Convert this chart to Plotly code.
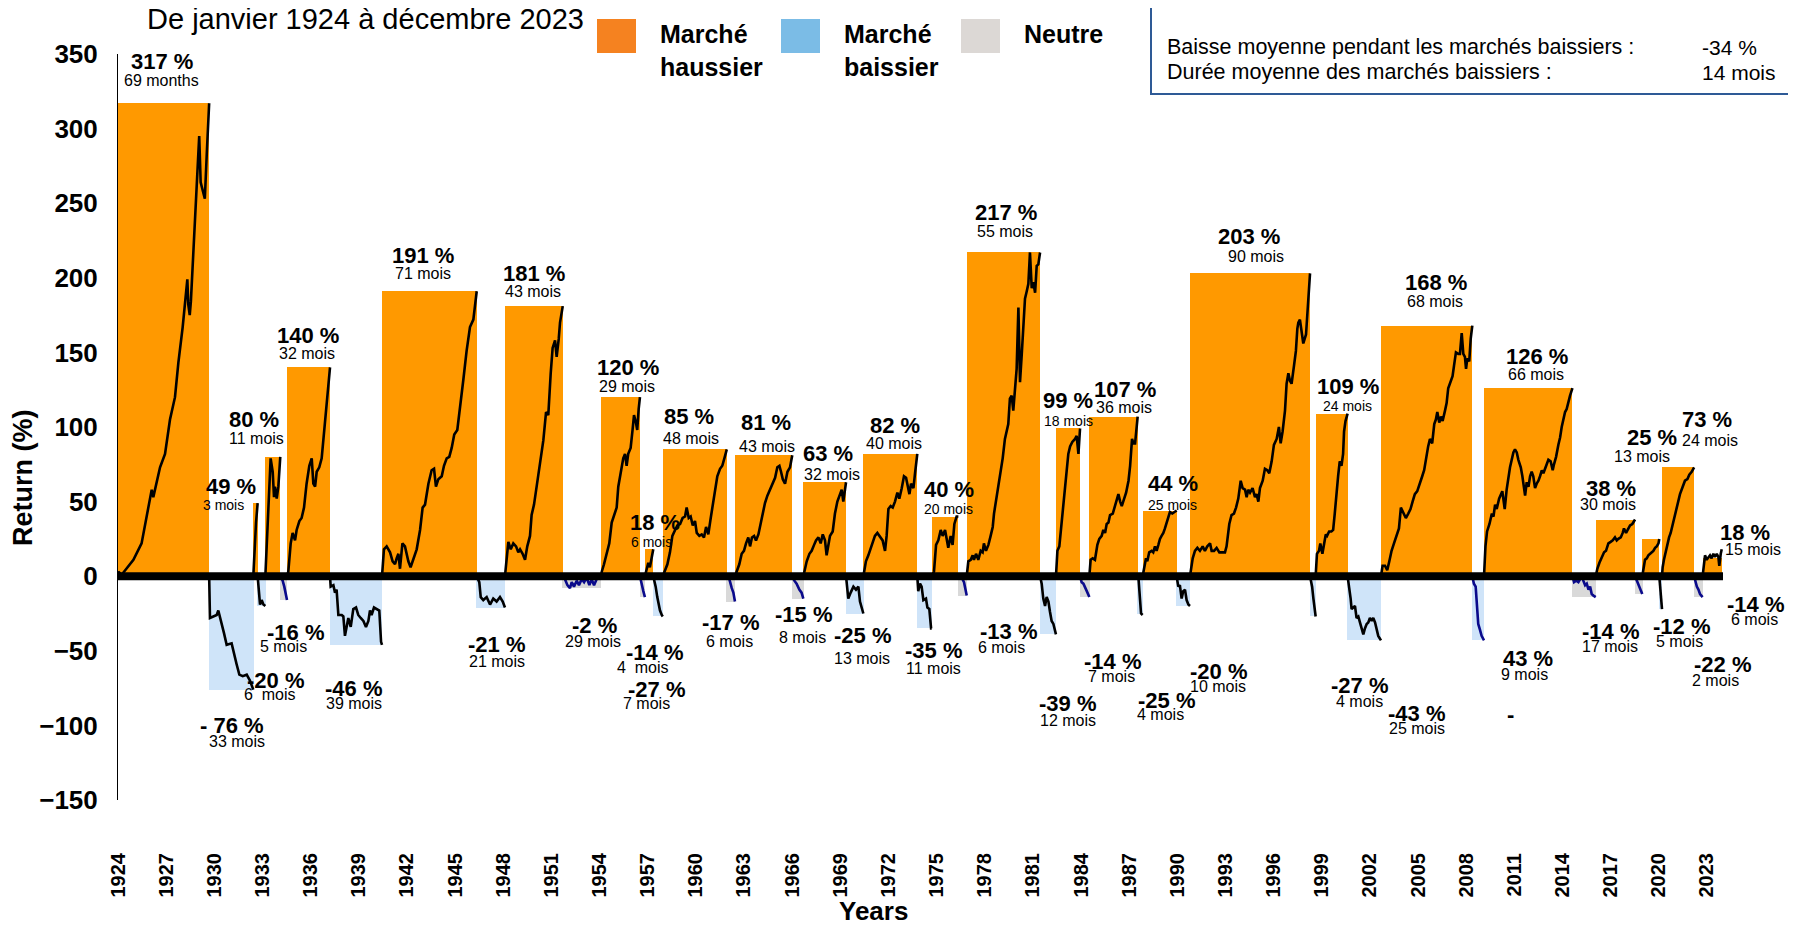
import plotly.graph_objects as go

FONT = "Liberation Sans, Arial, sans-serif"
# The page body has an 8px margin: the figure is sized/offset so that it lines up with the page.
OFF = 8
PAGE_W, PAGE_H = 1796, 926
W, H = PAGE_W - OFF, PAGE_H - OFF
PL, PT, PR, PB = 118, 54, 1723, 800          # plot area in page pixels
ML, MT = PL - OFF, PT - OFF
MR, MB = W - (PR - OFF), H - (PB - OFF)
PW, PH = PR - PL, PB - PT
X0, X1, Y0, Y1 = 1924, 2024, -150, 350

# ---------------- data ----------------
year_ticks = list(range(1924, 2024, 3))

# bull markets (orange rectangles)
bull_start = [1924.00, 1932.43, 1933.18, 1934.53, 1940.45, 1948.11, 1954.09, 1956.83, 1957.94,
              1962.44, 1966.70, 1970.44, 1974.70, 1976.88, 1982.44, 1984.52, 1987.84, 1990.79,
              1998.62, 2002.69, 2009.11, 2016.07, 2018.97, 2020.20, 2022.73]
bull_end = [1929.68, 1932.70, 1934.11, 1937.21, 1946.35, 1951.71, 1956.52, 1957.35, 1961.93,
            1966.01, 1969.36, 1973.80, 1976.36, 1981.45, 1983.94, 1987.53, 1989.96, 1998.27,
            2000.61, 2008.38, 2014.62, 2018.52, 2020.03, 2022.20, 2023.92]
bull_height = [317, 49, 80, 140, 191, 181, 120, 18, 85, 81, 63, 82, 40, 217, 99, 107, 44, 203,
               109, 168, 126, 38, 25, 73, 12]

# bear markets (light blue stripes)
bear_start = [1929.68, 1932.70, 1937.21, 1946.35, 1957.35, 1969.36, 1973.80, 1981.45, 1987.53,
              1989.96, 1998.27, 2000.61, 2008.38, 2020.03]
bear_end = [1932.43, 1933.18, 1940.45, 1948.11, 1957.94, 1970.44, 1974.70, 1982.44, 1987.84,
            1990.79, 1998.62, 2002.69, 2009.11, 2020.20]
bear_depth = [-76, -20, -46, -21, -27, -25, -35, -39, -25, -20, -27, -43, -43, -22]

# neutral periods (grey stripes)
neutral_start = [1934.11, 1951.71, 1956.52, 1961.93, 1966.01, 1976.36, 1983.94, 2014.62, 2018.52, 2022.20]
neutral_end = [1934.53, 1954.09, 1956.83, 1962.44, 1966.70, 1976.88, 1984.52, 2016.07, 2018.97, 2022.73]
neutral_depth = [-16, -8, -14, -17, -15, -13, -14, -14, -12, -14]

# cumulative return paths (year, %)
p1924 = [(1924.0, 0), (1924.02, 3), (1924.23, 1), (1924.96, 11), (1925.47, 22), (1925.79, 41), (1926.1, 58),
         (1926.2, 53), (1926.62, 73), (1926.93, 82), (1927.24, 105), (1927.55, 120), (1927.76, 143),
         (1928.03, 167), (1928.32, 199), (1928.38, 182), (1928.47, 175), (1928.54, 184), (1928.82, 244),
         (1929.01, 292), (1929.06, 295), (1929.15, 264), (1929.29, 259), (1929.41, 253), (1929.53, 283),
         (1929.68, 317)]
p1929 = [(1929.68, 0), (1929.73, -28), (1930.15, -26), (1930.25, -23), (1930.6, -38), (1930.77, -46),
         (1931.08, -45), (1931.23, -53), (1931.39, -59), (1931.56, -66), (1931.77, -67), (1932.02, -66),
         (1932.22, -70), (1932.43, -76)]
p1932a = [(1932.43, 0), (1932.5, 18), (1932.6, 36), (1932.7, 49)]
p1932b = [(1932.7, 0), (1932.8, -11), (1932.85, -19), (1932.95, -16), (1933.06, -19), (1933.18, -20)]
p1933 = [(1933.18, 0), (1933.37, 41), (1933.51, 79), (1933.64, 70), (1933.72, 53), (1933.78, 60),
         (1933.89, 52), (1933.99, 60), (1934.11, 80)]
p1934n = [(1934.11, 0), (1934.26, -3), (1934.36, -7), (1934.53, -16)]
p1934 = [(1934.53, 0), (1934.61, 3), (1934.76, 22), (1934.88, 29), (1935.03, 24), (1935.13, 31), (1935.3, 37),
         (1935.44, 39), (1935.59, 46), (1935.75, 62), (1935.92, 74), (1936.07, 79), (1936.17, 62),
         (1936.28, 60), (1936.38, 70), (1936.54, 73), (1936.69, 79), (1936.83, 96), (1937.0, 117),
         (1937.21, 140)]
p1937 = [(1937.21, 0), (1937.25, -7), (1937.42, -6), (1937.52, -11), (1937.62, -9), (1937.73, -26),
         (1937.94, -26), (1938.04, -27), (1938.14, -40), (1938.25, -34), (1938.35, -28), (1938.5, -34),
         (1938.66, -22), (1938.83, -21), (1938.97, -26), (1939.12, -28), (1939.29, -30), (1939.45, -34),
         (1939.6, -30), (1939.7, -23), (1939.8, -26), (1939.95, -21), (1940.12, -22), (1940.28, -23),
         (1940.39, -44), (1940.45, -46)]
p1940 = [(1940.45, 0), (1940.57, 18), (1940.74, 20), (1940.95, 16), (1941.11, 10), (1941.26, 8),
         (1941.36, 12), (1941.47, 15), (1941.57, 5), (1941.72, 22), (1941.88, 20), (1942.09, 10),
         (1942.23, 6), (1942.4, 12), (1942.61, 18), (1942.82, 31), (1942.98, 46), (1943.13, 48),
         (1943.34, 62), (1943.54, 71), (1943.69, 72), (1943.81, 60), (1943.96, 65), (1944.17, 67),
         (1944.31, 74), (1944.48, 79), (1944.64, 80), (1944.79, 86), (1944.95, 95), (1945.14, 98),
         (1945.31, 115), (1945.52, 132), (1945.72, 151), (1945.93, 167), (1946.14, 172), (1946.24, 182),
         (1946.35, 191)]
p1946 = [(1946.35, 0), (1946.51, -4), (1946.6, -14), (1946.76, -16), (1946.97, -14), (1947.18, -19),
         (1947.38, -15), (1947.59, -17), (1947.8, -14), (1947.97, -17), (1948.11, -21)]
p1948 = [(1948.11, 0), (1948.21, 12), (1948.32, 23), (1948.47, 18), (1948.63, 22), (1948.8, 20),
         (1948.94, 16), (1949.05, 18), (1949.21, 15), (1949.36, 11), (1949.5, 20), (1949.67, 27),
         (1949.77, 41), (1949.92, 48), (1950.08, 60), (1950.29, 74), (1950.5, 91), (1950.67, 110),
         (1950.81, 108), (1950.96, 136), (1951.08, 153), (1951.23, 158), (1951.33, 147), (1951.46, 159),
         (1951.54, 170), (1951.71, 181)]
p1951n = [(1951.71, 0), (1951.85, -2), (1952.0, -6), (1952.16, -8), (1952.27, -4), (1952.41, -7),
          (1952.58, -3), (1952.72, -6), (1952.89, -2), (1953.04, -4), (1953.2, -1), (1953.37, -6),
          (1953.51, -2), (1953.66, -6), (1953.82, -2), (1953.99, -1), (1954.09, -2)]
p1954 = [(1954.09, 0), (1954.14, 3), (1954.28, 8), (1954.45, 16), (1954.61, 22), (1954.76, 36),
         (1954.9, 41), (1955.07, 46), (1955.17, 60), (1955.32, 70), (1955.48, 79), (1955.59, 82),
         (1955.69, 74), (1955.79, 82), (1955.94, 86), (1956.06, 98), (1956.15, 108), (1956.27, 103),
         (1956.35, 98), (1956.44, 112), (1956.52, 120)]
p1956n = [(1956.52, 0), (1956.63, -6), (1956.73, -10), (1956.83, -14)]
p1956 = [(1956.83, 0), (1956.93, 5), (1957.04, 9), (1957.14, 6), (1957.25, 12), (1957.35, 18)]
p1957b = [(1957.35, 0), (1957.4, -2), (1957.5, -7), (1957.6, -14), (1957.69, -19), (1957.77, -23),
          (1957.88, -26), (1957.94, -27)]
p1957 = [(1957.94, 0), (1958.08, 4), (1958.23, 8), (1958.39, 16), (1958.54, 27), (1958.71, 31),
         (1958.85, 34), (1959.02, 35), (1959.18, 39), (1959.33, 40), (1959.43, 46), (1959.56, 39),
         (1959.68, 40), (1959.81, 34), (1959.95, 37), (1960.06, 29), (1960.22, 27), (1960.37, 28),
         (1960.51, 26), (1960.64, 33), (1960.78, 28), (1960.93, 39), (1961.05, 48), (1961.2, 58),
         (1961.34, 67), (1961.51, 72), (1961.65, 74), (1961.78, 79), (1961.93, 85)]
p1962n = [(1961.93, 0), (1962.09, -2), (1962.24, -8), (1962.34, -11), (1962.44, -17)]
p1962 = [(1962.44, 0), (1962.55, 3), (1962.71, 8), (1962.86, 15), (1963.0, 17), (1963.13, 22),
         (1963.27, 26), (1963.38, 20), (1963.5, 26), (1963.63, 27), (1963.75, 24), (1963.9, 28),
         (1964.04, 36), (1964.17, 41), (1964.31, 49), (1964.46, 54), (1964.63, 58), (1964.77, 62),
         (1964.94, 66), (1965.08, 73), (1965.21, 74), (1965.31, 70), (1965.42, 65), (1965.56, 62),
         (1965.71, 70), (1965.87, 73), (1966.01, 81)]
p1966n = [(1966.01, 0), (1966.14, -3), (1966.28, -5), (1966.45, -9), (1966.59, -11), (1966.7, -15)]
p1966 = [(1966.7, 0), (1966.74, 2), (1966.91, 10), (1967.08, 15), (1967.22, 17), (1967.37, 21),
         (1967.49, 24), (1967.64, 26), (1967.78, 22), (1967.91, 28), (1968.05, 24), (1968.15, 14),
         (1968.36, 27), (1968.53, 30), (1968.67, 42), (1968.82, 50), (1968.98, 55), (1969.09, 58),
         (1969.19, 50), (1969.36, 63)]
p1969 = [(1969.36, 0), (1969.44, -7), (1969.5, -15), (1969.65, -11), (1969.82, -7), (1969.98, -9),
         (1970.13, -7), (1970.23, -17), (1970.36, -22), (1970.44, -25)]
p1970 = [(1970.44, 0), (1970.6, 10), (1970.75, 14), (1970.85, 17), (1971.0, 22), (1971.16, 27),
         (1971.31, 29), (1971.48, 26), (1971.64, 24), (1971.79, 17), (1971.89, 27), (1972.0, 45),
         (1972.14, 47), (1972.27, 46), (1972.41, 50), (1972.56, 56), (1972.68, 52), (1972.83, 59),
         (1972.97, 67), (1973.1, 66), (1973.18, 62), (1973.31, 55), (1973.41, 62), (1973.56, 59),
         (1973.66, 69), (1973.8, 82)]
p1973 = [(1973.8, 0), (1973.86, -10), (1973.97, -5), (1974.07, -7), (1974.18, -16), (1974.34, -15),
         (1974.43, -21), (1974.55, -22), (1974.66, -35), (1974.7, -35)]
p1974 = [(1974.7, 0), (1974.84, 3), (1974.97, 21), (1975.11, 24), (1975.26, 31), (1975.38, 27),
         (1975.53, 31), (1975.63, 26), (1975.73, 19), (1975.88, 27), (1976.0, 21), (1976.11, 35),
         (1976.25, 40), (1976.36, 40)]
p1976n = [(1976.36, 0), (1976.57, -1), (1976.71, -4), (1976.88, -13)]
p1976 = [(1976.88, 0), (1976.98, 10), (1977.13, 11), (1977.25, 14), (1977.33, 11), (1977.46, 15),
         (1977.6, 11), (1977.75, 17), (1977.87, 16), (1977.95, 22), (1978.08, 17), (1978.23, 21),
         (1978.37, 27), (1978.5, 33), (1978.58, 42), (1978.7, 50), (1978.79, 55), (1978.95, 67),
         (1979.12, 79), (1979.26, 92), (1979.37, 97), (1979.47, 102), (1979.57, 119), (1979.68, 121),
         (1979.78, 111), (1979.89, 126), (1979.99, 139), (1980.1, 180), (1980.2, 130), (1980.31, 149),
         (1980.41, 168), (1980.51, 186), (1980.62, 191), (1980.72, 196), (1980.82, 217), (1980.93, 193),
         (1981.03, 197), (1981.14, 190), (1981.24, 208), (1981.34, 209), (1981.45, 217)]
p1981 = [(1981.45, 0), (1981.55, -5), (1981.65, -15), (1981.76, -20), (1981.86, -14), (1981.97, -17),
         (1982.07, -24), (1982.17, -30), (1982.28, -32), (1982.44, -39)]
p1982 = [(1982.44, 0), (1982.53, 17), (1982.65, 20), (1982.74, 30), (1982.86, 42), (1983.01, 55),
         (1983.11, 69), (1983.21, 82), (1983.32, 87), (1983.46, 90), (1983.63, 92), (1983.73, 94),
         (1983.84, 82), (1983.9, 97), (1983.94, 99)]
p1984n = [(1983.94, 0), (1984.04, -4), (1984.15, -5), (1984.25, -7), (1984.36, -10), (1984.52, -14)]
p1984 = [(1984.52, 0), (1984.6, 11), (1984.73, 12), (1984.87, 11), (1985.02, 21), (1985.14, 25),
         (1985.29, 27), (1985.39, 31), (1985.5, 29), (1985.6, 35), (1985.71, 36), (1985.81, 41),
         (1985.98, 42), (1986.12, 47), (1986.23, 52), (1986.33, 55), (1986.44, 50), (1986.54, 47),
         (1986.69, 52), (1986.81, 56), (1986.96, 64), (1987.06, 74), (1987.18, 92), (1987.27, 89),
         (1987.37, 89), (1987.48, 102), (1987.53, 107)]
p1987b = [(1987.53, 0), (1987.58, -1), (1987.64, -10), (1987.68, -20), (1987.74, -25), (1987.84, -26)]
p1987 = [(1987.84, 0), (1987.92, 5), (1988.05, 12), (1988.13, 10), (1988.25, 16), (1988.4, 17),
         (1988.5, 16), (1988.61, 20), (1988.71, 17), (1988.82, 21), (1988.92, 25), (1989.02, 27),
         (1989.13, 29), (1989.23, 32), (1989.34, 36), (1989.44, 41), (1989.54, 43), (1989.69, 42),
         (1989.81, 43), (1989.96, 44)]
p1990b = [(1989.96, 0), (1990.06, -7), (1990.16, -6), (1990.27, -15), (1990.37, -10), (1990.48, -9),
          (1990.58, -16), (1990.69, -19), (1990.79, -20)]
p1990 = [(1990.79, 0), (1990.96, 12), (1991.1, 17), (1991.25, 19), (1991.41, 17), (1991.58, 20),
         (1991.72, 17), (1991.87, 20), (1992.04, 22), (1992.14, 17), (1992.29, 17), (1992.45, 19),
         (1992.62, 16), (1992.76, 16), (1992.97, 16), (1993.07, 20), (1993.24, 35), (1993.38, 41),
         (1993.53, 42), (1993.66, 46), (1993.8, 52), (1993.95, 64), (1994.07, 59), (1994.22, 58),
         (1994.32, 53), (1994.42, 58), (1994.53, 56), (1994.69, 59), (1994.84, 53), (1994.94, 55),
         (1995.05, 50), (1995.15, 59), (1995.32, 64), (1995.46, 72), (1995.61, 71), (1995.73, 69),
         (1995.88, 77), (1996.02, 88), (1996.19, 92), (1996.33, 100), (1996.44, 89), (1996.56, 97),
         (1996.71, 111), (1996.81, 129), (1996.92, 136), (1997.02, 131), (1997.12, 129), (1997.27, 141),
         (1997.39, 151), (1997.48, 166), (1997.54, 170), (1997.64, 172), (1997.75, 163), (1997.85, 156),
         (1998.02, 162), (1998.16, 188), (1998.27, 203)]
p1998b = [(1998.27, 0), (1998.4, -7), (1998.48, -15), (1998.55, -24), (1998.62, -27)]
p1998 = [(1998.62, 0), (1998.7, 15), (1998.83, 17), (1998.91, 22), (1999.04, 15), (1999.12, 21),
         (1999.25, 28), (1999.33, 27), (1999.46, 30), (1999.6, 30), (1999.71, 31), (1999.81, 42),
         (1999.92, 57), (2000.02, 67), (2000.12, 77), (2000.23, 74), (2000.33, 82), (2000.39, 97),
         (2000.48, 104), (2000.61, 109)]
p2000 = [(2000.61, 0), (2000.71, -7), (2000.8, -15), (2000.86, -22), (2000.96, -21), (2001.07, -20),
         (2001.17, -28), (2001.28, -27), (2001.38, -31), (2001.48, -35), (2001.59, -39), (2001.69, -35),
         (2001.8, -32), (2001.9, -31), (2002.0, -28), (2002.11, -30), (2002.21, -28), (2002.32, -31),
         (2002.42, -35), (2002.52, -40), (2002.69, -43)]
p2002 = [(2002.69, 0), (2002.79, 7), (2002.94, 7), (2003.08, 4), (2003.21, 10), (2003.35, 17),
         (2003.5, 22), (2003.66, 27), (2003.81, 32), (2003.93, 46), (2004.08, 42), (2004.24, 39),
         (2004.39, 42), (2004.53, 45), (2004.66, 50), (2004.8, 55), (2004.95, 57), (2005.11, 63),
         (2005.26, 67), (2005.38, 71), (2005.53, 82), (2005.63, 87), (2005.74, 92), (2005.88, 89),
         (2006.01, 102), (2006.11, 105), (2006.2, 110), (2006.32, 103), (2006.43, 107), (2006.53, 104),
         (2006.68, 111), (2006.78, 116), (2006.88, 126), (2007.03, 131), (2007.15, 134), (2007.24, 141),
         (2007.36, 150), (2007.51, 149), (2007.61, 149), (2007.72, 163), (2007.82, 149), (2007.92, 147),
         (2007.99, 139), (2008.07, 146), (2008.19, 144), (2008.28, 159), (2008.38, 168)]
p2008 = [(2008.38, 0), (2008.48, -5), (2008.59, -7), (2008.65, -15), (2008.71, -25), (2008.75, -32),
         (2008.86, -36), (2008.96, -40), (2009.11, -43)]
p2009 = [(2009.11, 0), (2009.2, 20), (2009.3, 30), (2009.45, 35), (2009.6, 42), (2009.7, 40),
         (2009.8, 48), (2009.9, 45), (2010.05, 52), (2010.25, 57), (2010.4, 45), (2010.52, 58),
         (2010.73, 73), (2010.94, 83), (2011.04, 85), (2011.15, 83), (2011.25, 78), (2011.4, 73),
         (2011.5, 67), (2011.61, 60), (2011.67, 54), (2011.77, 63), (2011.88, 60), (2011.98, 67),
         (2012.08, 70), (2012.18, 67), (2012.29, 59), (2012.39, 62), (2012.5, 64), (2012.6, 67),
         (2012.71, 71), (2012.81, 69), (2013.02, 75), (2013.12, 78), (2013.26, 77), (2013.39, 71),
         (2013.47, 75), (2013.6, 80), (2013.74, 88), (2013.85, 93), (2013.95, 100), (2014.05, 104),
         (2014.16, 110), (2014.26, 112), (2014.37, 117), (2014.47, 121), (2014.62, 126)]
p2014n = [(2014.62, 0), (2014.72, -4), (2014.85, -3), (2014.99, -4), (2015.1, -2), (2015.2, 0),
          (2015.3, -3), (2015.41, -6), (2015.51, -5), (2015.62, -9), (2015.72, -7), (2015.82, -12),
          (2015.93, -13), (2016.07, -14)]
p2016 = [(2016.07, 0), (2016.17, 5), (2016.3, 9), (2016.44, 13), (2016.59, 16), (2016.71, 17),
         (2016.86, 22), (2017.0, 23), (2017.13, 24), (2017.27, 26), (2017.38, 24), (2017.48, 25),
         (2017.63, 26), (2017.75, 29), (2017.83, 32), (2017.96, 29), (2018.06, 31), (2018.21, 34),
         (2018.35, 35), (2018.52, 38)]
p2018n = [(2018.52, 0), (2018.63, -3), (2018.73, -6), (2018.84, -8), (2018.97, -12)]
p2019 = [(2018.97, 0), (2019.04, 6), (2019.14, 11), (2019.25, 12), (2019.35, 14), (2019.46, 15),
         (2019.56, 16), (2019.66, 17), (2019.77, 19), (2019.87, 20), (2019.98, 22), (2020.03, 25)]
p2020b = [(2020.03, 0), (2020.1, -12), (2020.2, -22)]
p2020 = [(2020.2, 0), (2020.24, 6), (2020.32, 11), (2020.43, 17), (2020.53, 22), (2020.64, 26),
         (2020.74, 29), (2020.87, 35), (2021.01, 42), (2021.16, 49), (2021.32, 55), (2021.49, 60),
         (2021.63, 64), (2021.78, 65), (2021.9, 68), (2022.05, 70), (2022.2, 73)]
p2022n = [(2022.2, 0), (2022.3, -5), (2022.37, -7), (2022.47, -9), (2022.57, -12), (2022.73, -14)]
p2022 = [(2022.73, 0), (2022.82, 9), (2022.88, 14), (2022.98, 11), (2023.09, 13), (2023.19, 14),
         (2023.29, 12), (2023.4, 15), (2023.5, 13), (2023.61, 15), (2023.71, 13), (2023.77, 7),
         (2023.86, 15), (2023.92, 18)]

black_paths = [p1924, p1929, p1932a, p1932b, p1933, p1934, p1937, p1940, p1946, p1948, p1954, p1956,
               p1957b, p1957, p1962, p1966, p1969, p1970, p1973, p1974, p1976, p1981, p1982, p1984,
               p1987b, p1987, p1990b, p1990, p1998b, p1998, p2000, p2002, p2009, p2016, p2019,
               p2020b, p2020, p2022]
navy_paths = [p1934n, p1951n, p1956n, p1962n, p1966n, p1976n, p1984n, p2008, p2014n, p2018n, p2022n]

# labels: (text, year, value)
pct_labels = [("317 %", 1926.74, 345), ("49 %", 1931.04, 60), ("80 %", 1932.47, 105), ("140 %", 1935.86, 161),
              ("191 %", 1943.02, 215), ("181 %", 1949.92, 203), ("120 %", 1955.75, 140), ("18 %", 1957.46, 36),
              ("85 %", 1959.6, 107), ("81 %", 1964.38, 103), ("63 %", 1968.26, 82), ("82 %", 1972.41, 101),
              ("40 %", 1975.77, 58), ("217 %", 1979.31, 244), ("99 %", 1983.21, 118), ("107 %", 1986.74, 125),
              ("44 %", 1989.71, 62), ("203 %", 1994.47, 228), ("109 %", 2000.66, 127), ("168 %", 2006.12, 197),
              ("126 %", 2012.39, 147), ("38 %", 2017.02, 59), ("25 %", 2019.56, 93), ("73 %", 2023.02, 105),
              ("18 %", 2025.37, 29),
              ("- 76 %", 1931.08, -100), ("-20 %", 1933.84, -70), ("-16 %", 1935.09, -38), ("-46 %", 1938.7, -75),
              ("-21 %", 1947.59, -46), ("-2 %", 1953.68, -33), ("-14 %", 1957.42, -51), ("-27 %", 1957.56, -76),
              ("-17 %", 1962.19, -31), ("-15 %", 1966.70, -26), ("-25 %", 1970.38, -40), ("-35 %", 1974.8, -50),
              ("-13 %", 1979.51, -37), ("-39 %", 1983.17, -85), ("-14 %", 1985.95, -57), ("-25 %", 1989.34, -83),
              ("-20 %", 1992.56, -64), ("-27 %", 2001.38, -73), ("-43 %", 2004.91, -92), ("43 %", 2011.83, -55),
              ("-", 2010.73, -93), ("-14 %", 2016.96, -37), ("-12 %", 2021.42, -34), ("-22 %", 2023.98, -59),
              ("-14 %", 2026.0, -19)]
dur_labels = [("69 months", 1926.74, 332, 16), ("3 mois", 1930.56, 48, 14), ("11 mois", 1932.64, 92, 16),
              ("32 mois", 1935.8, 149, 16), ("71 mois", 1943.02, 203, 16), ("43 mois", 1949.88, 191, 16),
              ("29 mois", 1955.73, 127, 16), ("6 mois", 1957.25, 23, 14), ("48 mois", 1959.68, 92, 16),
              ("43 mois", 1964.42, 87, 16), ("32 mois", 1968.5, 68, 16), ("40 mois", 1972.35, 89, 16),
              ("20 mois", 1975.73, 45, 14), ("55 mois", 1979.27, 231, 16), ("18 mois", 1983.21, 104, 14),
              ("36 mois", 1986.68, 113, 16), ("25 mois", 1989.71, 48, 14), ("90 mois", 1994.88, 214, 16),
              ("24 mois", 2000.61, 114, 14), ("68 mois", 2006.06, 184, 16), ("66 mois", 2012.33, 135, 16),
              ("30 mois", 2016.81, 48, 16), ("13 mois", 2018.97, 80, 16), ("24 mois", 2023.19, 91, 16),
              ("15 mois", 2025.89, 18, 16),
              ("33 mois", 1931.44, -111, 16), ("6  mois", 1933.47, -79, 16), ("5 mois", 1934.34, -47, 16),
              ("39 mois", 1938.7, -85, 16), ("21 mois", 1947.59, -57, 16), ("29 mois", 1953.62, -44, 16),
              ("4  mois", 1956.69, -61, 16), ("7 mois", 1956.94, -85, 16), ("6 mois", 1962.13, -44, 16),
              ("8 mois", 1966.66, -41, 16), ("13 mois", 1970.38, -55, 16), ("11 mois", 1974.8, -62, 16),
              ("6 mois", 1979.06, -48, 16), ("12 mois", 1983.17, -97, 16), ("7 mois", 1985.91, -67, 16),
              ("4 mois", 1988.96, -93, 16), ("10 mois", 1992.56, -74, 16), ("4 mois", 2001.38, -84, 16),
              ("25 mois", 2004.91, -102, 16), ("9 mois", 2011.62, -66, 16), ("17 mois", 2016.96, -47, 16),
              ("5 mois", 2021.32, -44, 16), ("2 mois", 2023.56, -70, 16), ("6 mois", 2025.95, -29, 16)]

stats_labels = ["Durée moyenne des marchés haussiers :", "Baisse moyenne pendant les marchés baissiers :",
                "Durée moyenne des marchés baissiers :"]
stats_values = ["36 mois", "-34 %", "14 mois"]


# ---------------- helpers (page pixel -> paper) ----------------
def pxx(x):
    return (x - PL) / PW


def pxy(y):
    return (PB - y) / PH


def dx(year):
    return (year - X0) / (X1 - X0)


def dy(val):
    return (val - Y0) / (Y1 - Y0)


def monthly(starts, ends, depths):
    xs, ys = [], []
    for s, e, d in zip(starts, ends, depths):
        n = max(1, round((e - s) * 12))
        step = (e - s) / n
        for i in range(n):
            xs.append(s + (i + 0.5) * step)
            ys.append(d)
    return xs, ys


def join(paths):
    xs, ys = [], []
    for p in paths:
        xs += [a for a, _ in p] + [None]
        ys += [b for _, b in p] + [None]
    return xs, ys


fig = go.Figure()

fig.add_trace(go.Bar(
    x=[(s + e) / 2 for s, e in zip(bull_start, bull_end)],
    y=bull_height, width=[e - s for s, e in zip(bull_start, bull_end)],
    marker=dict(color="#FF9900", line=dict(width=0)), name="Marché haussier", showlegend=False))

bx, by = monthly(bear_start, bear_end, bear_depth)
fig.add_trace(go.Bar(x=bx, y=by, width=1 / 12 * 0.72,
                     marker=dict(color="#cfe4f9", line=dict(width=0)),
                     name="Marché baissier", showlegend=False))
nx, ny = monthly(neutral_start, neutral_end, neutral_depth)
fig.add_trace(go.Bar(x=nx, y=ny, width=1 / 12 * 0.72,
                     marker=dict(color="#d9d9d9", line=dict(width=0)),
                     name="Neutre", showlegend=False))

lx, ly = join(black_paths)
fig.add_trace(go.Scatter(x=lx, y=ly, mode="lines", line=dict(color="black", width=2.6),
                         showlegend=False, connectgaps=False))
nvx, nvy = join(navy_paths)
fig.add_trace(go.Scatter(x=nvx, y=nvy, mode="lines", line=dict(color="#0a0a8c", width=2.6),
                         showlegend=False, connectgaps=False))

ann = []
for t, x, y in pct_labels:
    ann.append(dict(text="<b>%s</b>" % t, x=dx(x), y=dy(y), xref="paper", yref="paper", showarrow=False,
                    font=dict(family=FONT, size=22, color="black"), xanchor="center", yanchor="middle"))
for t, x, y, s in dur_labels:
    ann.append(dict(text=t, x=dx(x), y=dy(y), xref="paper", yref="paper", showarrow=False,
                    font=dict(family=FONT, size=s, color="black"), xanchor="center", yanchor="middle"))

# axis titles
ann.append(dict(text="<b>Return (%)</b>", x=pxx(23), y=pxy(478), xref="paper", yref="paper",
                showarrow=False, textangle=-90, font=dict(family=FONT, size=27, color="black"),
                xanchor="center", yanchor="middle"))
ann.append(dict(text="<b>Years</b>", x=pxx(873), y=pxy(911), xref="paper", yref="paper",
                showarrow=False, font=dict(family=FONT, size=26, color="black"),
                xanchor="center", yanchor="middle"))

# legend
shapes = []
legend_items = [("#F58220", 597, "Marché<br>haussier", 658), ("#7BBCE6", 781, "Marché<br>baissier", 842),
                ("#DCD8D5", 961, "Neutre", 1022)]
for col, x0, txt, tx in legend_items:
    shapes.append(dict(type="rect", xref="paper", yref="paper", x0=pxx(x0), x1=pxx(x0 + 39),
                       y0=pxy(53), y1=pxy(19), fillcolor=col, line=dict(width=0), layer="above"))
    two = "<br>" in txt
    ann.append(dict(text="<b>%s</b>" % txt, x=pxx(tx), y=pxy(50 if two else 34), xref="paper", yref="paper",
                    showarrow=False, align="left", font=dict(family=FONT, size=25, color="black"),
                    xanchor="left", yanchor="middle"))

# stats box
shapes.append(dict(type="rect", xref="paper", yref="paper", x0=pxx(1151), x1=pxx(1794),
                   y0=pxy(94), y1=pxy(-40), line=dict(color="#2E5A96", width=2), fillcolor="white",
                   layer="above"))
for lab, val, yy in zip(stats_labels, stats_values, [-6, 47, 72]):
    ann.append(dict(text=lab, x=pxx(1165), y=pxy(yy), xref="paper", yref="paper", showarrow=False,
                    font=dict(family=FONT, size=21.5, color="black"), xanchor="left", yanchor="middle"))
    ann.append(dict(text=val, x=pxx(1700), y=pxy(yy), xref="paper", yref="paper", showarrow=False,
                    font=dict(family=FONT, size=21, color="black"), xanchor="left", yanchor="middle"))

# title
ann.append(dict(text="De janvier 1924 à décembre 2023", x=pxx(145), y=pxy(19), xref="paper", yref="paper",
                showarrow=False, font=dict(family=FONT, size=29, color="black"),
                xanchor="left", yanchor="middle"))

# thick zero line
shapes.append(dict(type="line", xref="x", yref="y", x0=X0, x1=X1, y0=0, y1=0,
                   line=dict(color="black", width=8), layer="above"))

fig.update_layout(
    template="none",
    width=W, height=H, margin=dict(l=ML, r=MR, t=MT, b=MB, autoexpand=False),
    paper_bgcolor="white", plot_bgcolor="white", barmode="overlay", bargap=0,
    xaxis=dict(range=[X0, X1], tickmode="array", tickvals=year_ticks,
               ticktext=[str(v) for v in year_ticks], tickangle=-90, ticks="",
               tickfont=dict(family=FONT, size=20, color="black", weight="bold"),
               showgrid=False, zeroline=False, showline=False, ticklabelstandoff=48,
               automargin=False),
    yaxis=dict(range=[Y0, Y1], dtick=50, tick0=0, ticks="", showgrid=False, zeroline=False,
               showline=True, linecolor="black", linewidth=1,
               tickfont=dict(family=FONT, size=26, color="black", weight="bold"),
               ticklabelstandoff=14, automargin=False),
    annotations=ann, shapes=shapes, showlegend=False,
)

fig.write_html("out.html")
